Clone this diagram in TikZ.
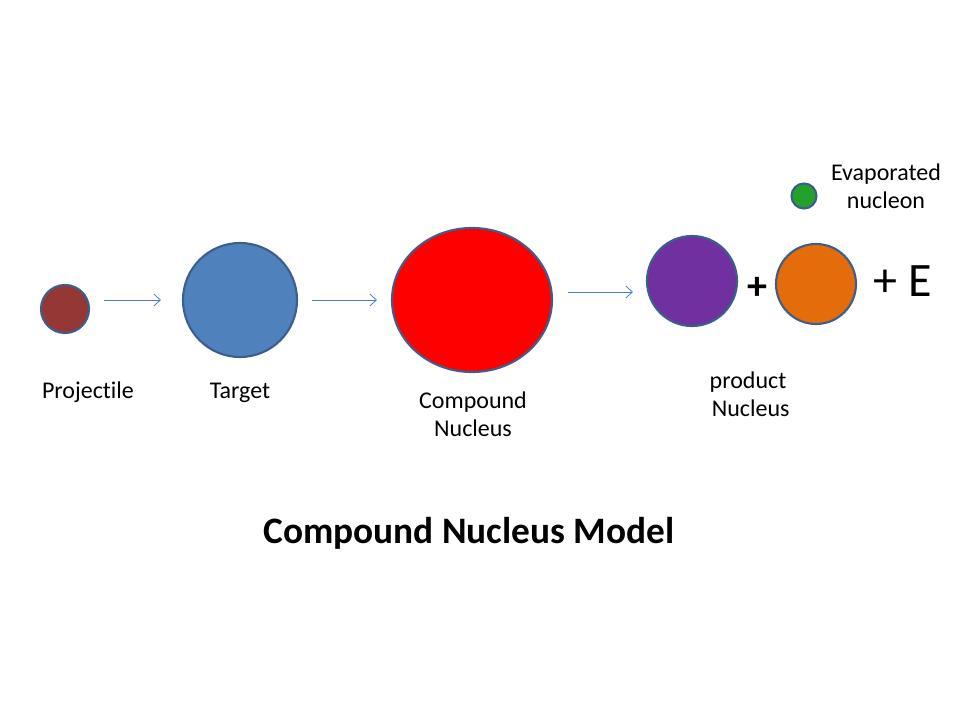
\documentclass[tikz,border=0pt]{standalone}
\usepackage{fontspec}
\setmainfont[RawFeature=-liga]{Carlito}
\usetikzlibrary{arrows.meta,shapes.geometric}
\definecolor{bordc}{HTML}{3E5E8A}
\definecolor{projc}{HTML}{953735}
\definecolor{targc}{HTML}{4F81BD}
\definecolor{purpc}{HTML}{7030A0}
\definecolor{orngc}{HTML}{E46C0A}
\definecolor{grnc}{HTML}{22A22A}
\definecolor{arrc}{HTML}{4A7EBB}
\tikzset{
  ball/.style={circle, draw=bordc, line width=1.6pt, inner sep=0pt},
  lbl/.style={font=\fontsize{18pt}{21pt}\selectfont, align=center, inner sep=0pt},
  flow/.style={draw=arrc, line width=0.6pt, -{Straight Barb[length=5pt,width=9pt]}},
}
\begin{document}
\begin{tikzpicture}[x=0.75pt,y=-0.75pt]
\useasboundingbox[fill=white] (0,0) rectangle (960,720);
\node[ball, fill=projc, minimum size=48*0.75pt] (proj) at (65,309) {};
\node[ball, fill=targc, minimum size=114*0.75pt] (targ) at (240,300) {};
\node[ellipse, draw=bordc, line width=1.6pt, inner sep=0pt, fill=red, minimum width=160*0.75pt, minimum height=144*0.75pt] (comp) at (472,300) {};
\node[ball, fill=purpc, minimum size=90*0.75pt] (prod) at (692,281) {};
\node[ball, fill=orngc, minimum size=80*0.75pt] (orng) at (816,284) {};
\node[ball, fill=grnc, minimum size=25*0.75pt] (grn) at (804,196) {};
\coordinate (a1s) at (104,300); \coordinate (a1e) at (161,300);
\coordinate (a2s) at (312,300); \coordinate (a2e) at (377,300);
\coordinate (a3s) at (568,292); \coordinate (a3e) at (633,292);
\draw[flow] (a1s) -- (a1e);
\draw[flow] (a2s) -- (a2e);
\draw[flow] (a3s) -- (a3e);
\node[lbl, anchor=base] (lproj) at (88,398) {Projectile};
\node[lbl, anchor=base] (ltarg) at (240,398) {Target};
\node[lbl] (lcomp) at (473,414) {Compound\\Nucleus};
\node[lbl] (lprod) at (748,394) {product\\\ Nucleus};
\node[lbl] (lgrn) at (886,186) {Evaporated\\nucleon};
\node[font=\bfseries\fontsize{30pt}{34pt}\selectfont, inner sep=0pt] (plus) at (757,288) {+};
\node[font=\fontsize{36pt}{40pt}\selectfont, inner sep=0pt] (pe) at (903,281) {+ E};
\node[font=\bfseries\fontsize{28pt}{32pt}\selectfont, inner sep=0pt, anchor=base] (title) at (469,543) {Compound Nucleus Model};
\end{tikzpicture}
\end{document}
